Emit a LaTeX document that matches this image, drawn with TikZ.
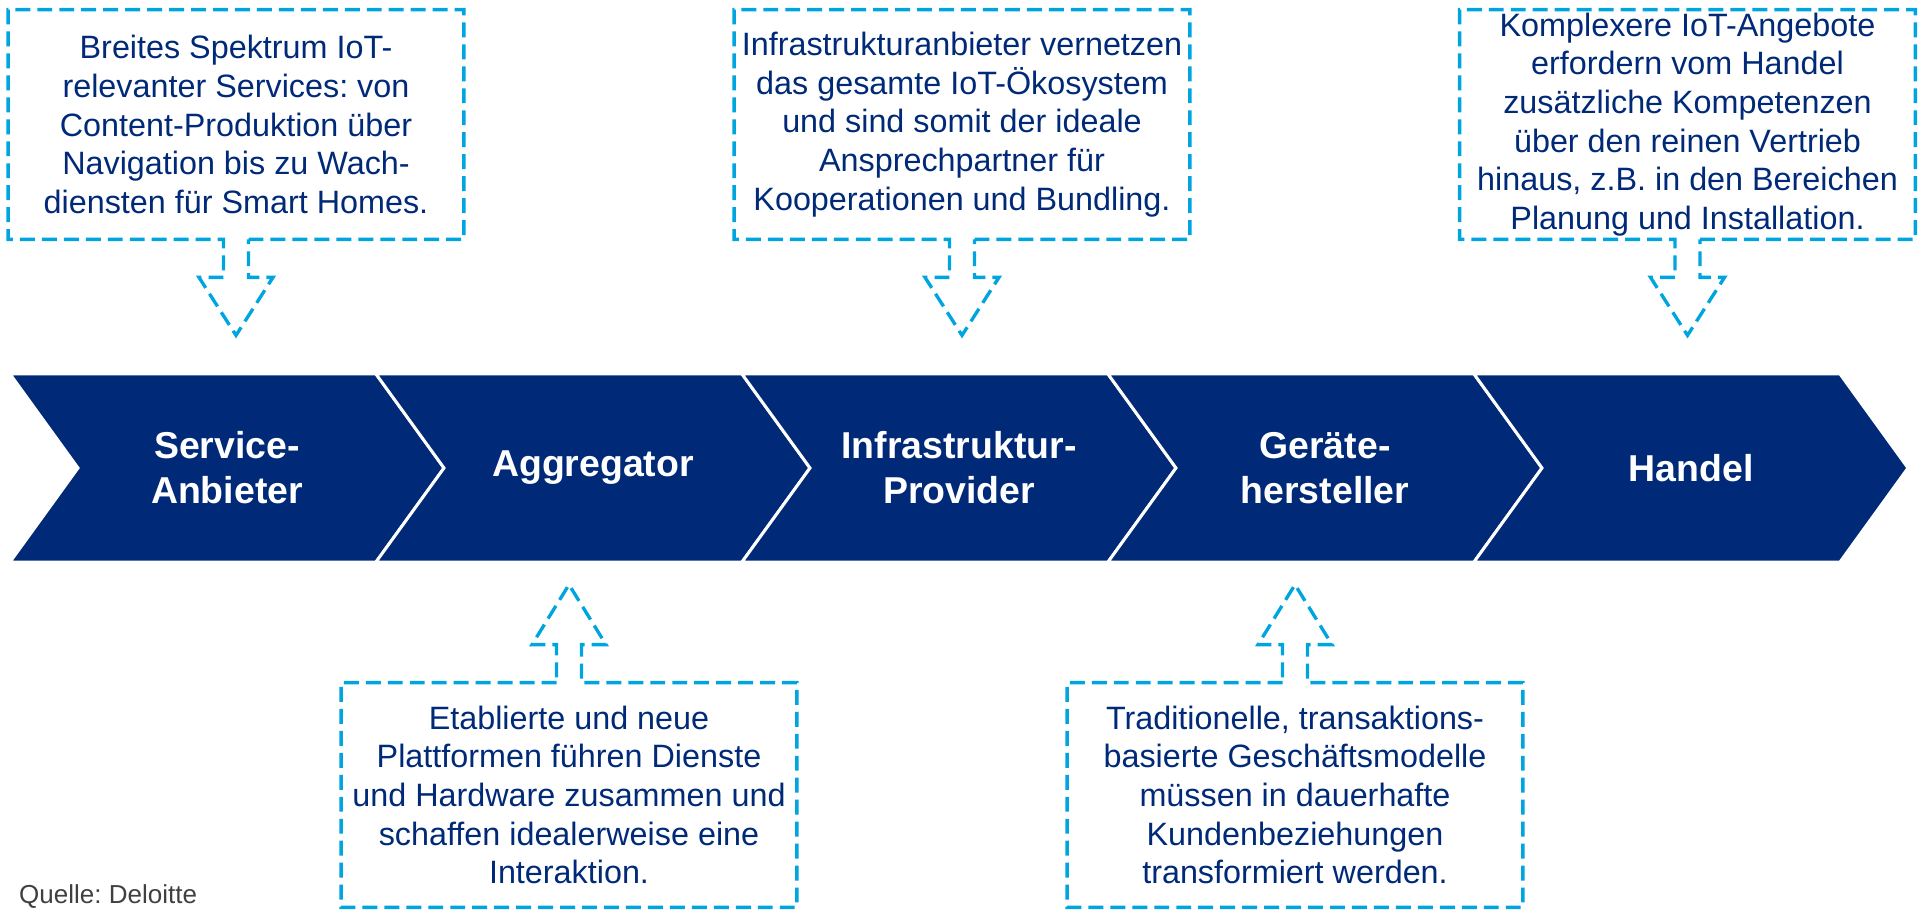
\documentclass[tikz,border=0pt]{standalone}
\usepackage{fontspec}
\setmainfont{Liberation Sans}
\usepackage{xcolor}
\usepackage{tikz}
\usetikzlibrary{calc,positioning}
\definecolor{navy}{HTML}{002A78}
\definecolor{skyblue}{HTML}{00A5E0}
\definecolor{srcgray}{HTML}{404040}
\frenchspacing

\begin{document}
\begin{tikzpicture}[
  chevron/.style={fill=navy, draw=white, line width=1.7pt},
  stage/.style={text=white, font=\bfseries\fontsize{21.3}{25.6}\selectfont, align=center},
  callout/.style={draw=skyblue, line width=1.9pt, dash pattern=on 8.5pt off 4pt},
  note/.style={text=navy, font=\fontsize{18.4}{22}\selectfont, align=center, inner sep=0pt, minimum width=9.1cm}
]
\useasboundingbox (0,0) rectangle (38.38,18.2);

% value chain
\foreach \i in {0,...,4}
  \filldraw[chevron] ({0.2+7.32*\i},10.72) -- ++(7.32,0) -- ++(1.36,-1.88) -- ++(-1.36,-1.88) -- ++(-7.32,0) -- ++(1.36,1.88) -- cycle;

\node[stage] (sa) at (4.54,8.84) {Service-\\Anbieter};
\node[stage] (agg) at (11.86,8.84) {Aggregator};
\node[stage] (infra) at (19.18,8.84) {Infrastruktur-\\Provider};
\node[stage] (geraete) at (26.50,8.84) {Geräte-\\hersteller};
\node[stage] (handel) at (33.82,8.84) {Handel};

% callouts above
\node[note, minimum height=4.58cm] (csa) at (4.72,15.71) {Breites Spektrum IoT-\\relevanter Services: von\\Content-Produktion über\\Navigation bis zu Wach-\\diensten für Smart Homes.};
\node[note, minimum height=4.58cm] (cinfra) at (19.24,15.71) {Infrastrukturanbieter vernetzen\\das gesamte IoT-Ökosystem\\und sind somit der ideale\\Ansprechpartner für\\Kooperationen und Bundling.};
\node[note, minimum height=4.58cm] (chandel) at (33.75,15.71) {Komplexere IoT-Angebote\\erfordern vom Handel\\zusätzliche Kompetenzen\\über den reinen Vertrieb\\hinaus, z.B. in den Bereichen\\Planung und Installation.};

\foreach \n in {csa,cinfra,chandel}
  \draw[callout] ($(\n.south)+(0.25,0)$) -- (\n.south east) |- (\n.north west) |- ($(\n.south)+(-0.25,0)$)
    -- ++(0,-0.76) -- ++(-0.49,0) -- ($(\n.south)+(0,-1.92)$) -- ++(0.74,1.16) -- ++(-0.49,0) -- cycle;

% callouts below
\node[note, minimum height=4.48cm] (cagg) at (11.38,2.30) {Etablierte und neue\\Plattformen führen Dienste\\und Hardware zusammen und\\schaffen idealerweise eine\\Interaktion.};
\node[note, minimum height=4.48cm] (cgeraete) at (25.90,2.30) {Traditionelle, transaktions-\\basierte Geschäftsmodelle\\müssen in dauerhafte\\Kundenbeziehungen\\transformiert werden.};

\foreach \n in {cagg,cgeraete}
  \draw[callout] ($(\n.north)+(-0.25,0)$) -- (\n.north west) |- (\n.south east) |- ($(\n.north)+(0.25,0)$)
    -- ++(0,0.76) -- ++(0.49,0) -- ($(\n.north)+(0,1.96)$) -- ++(-0.74,-1.2) -- ++(0.49,0) -- cycle;

\node[anchor=base west, text=srcgray, font=\fontsize{14.8}{16}\selectfont] (quelle) at (0.26,0.14) {Quelle: Deloitte};

\end{tikzpicture}
\end{document}
